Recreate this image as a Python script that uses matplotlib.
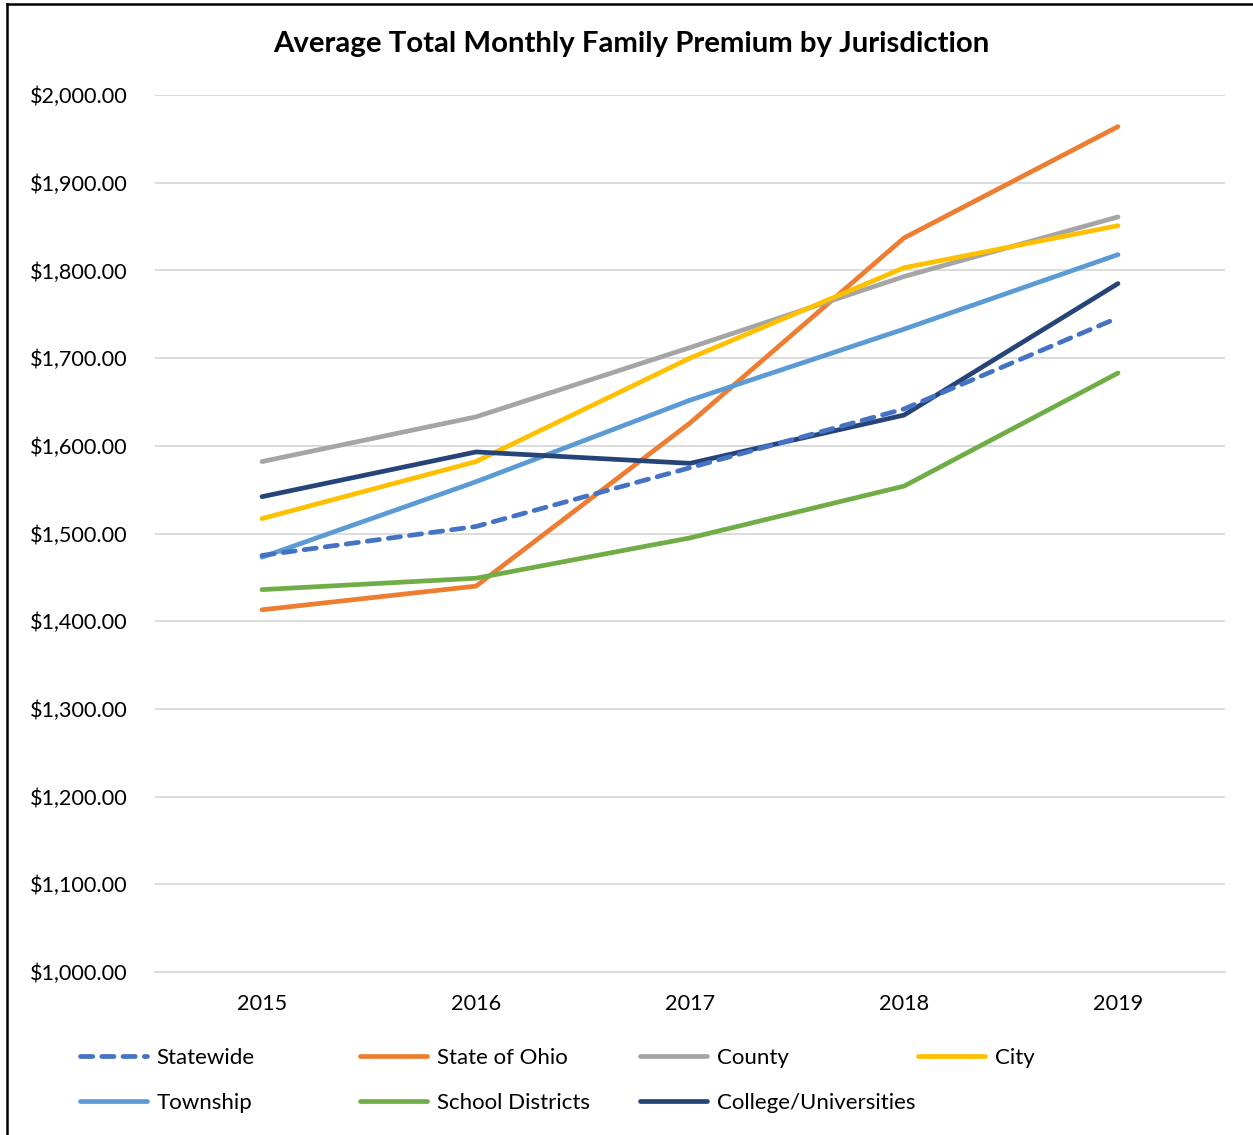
import matplotlib.pyplot as plt
from matplotlib.lines import Line2D
from matplotlib.ticker import FuncFormatter

plt.rcParams['font.family'] = ['Lato', 'DejaVu Sans']

# Data
years = ["2015", "2016", "2017", "2018", "2019"]
statewide = [1475, 1508, 1575, 1642, 1746]
state_of_ohio = [1413, 1440, 1626, 1837, 1964]
county = [1582, 1633, 1712, 1793, 1861]
city = [1517, 1582, 1700, 1803, 1851]
township = [1473, 1559, 1652, 1733, 1818]
school_districts = [1436, 1449, 1495, 1554, 1683]
college_universities = [1542, 1593, 1580, 1635, 1785]

series = [
    ("Statewide", statewide, "#4472C4", (0, (2.6, 1.9))),
    ("State of Ohio", state_of_ohio, "#ED7D31", "-"),
    ("County", county, "#A5A5A5", "-"),
    ("City", city, "#FFC000", "-"),
    ("Township", township, "#5B9BD5", "-"),
    ("School Districts", school_districts, "#70AD47", "-"),
    ("College/Universities", college_universities, "#264478", "-"),
]

fig = plt.figure(figsize=(12.53, 11.35), dpi=100)
ax = fig.add_axes([155 / 1253, 1 - 972 / 1135, 1070 / 1253, 877 / 1135])

x = range(len(years))
handles = {}
for name, vals, color, ls in series:
    line, = ax.plot(x, vals, color=color, lw=3.4, linestyle=ls, solid_capstyle="round",
                    dash_capstyle="round", label=name)
    handles[name] = line

# stacking order roughly as in the reference
for name in ["County", "City", "Township", "School Districts", "College/Universities"]:
    handles[name].set_zorder(3)
handles["Statewide"].set_zorder(4)
handles["State of Ohio"].set_zorder(2)

ax.set_xlim(-0.5, len(years) - 0.5)
ax.set_ylim(1000, 2000)
ax.set_xticks(list(x))
ax.set_xticklabels(years)
ax.set_yticks(range(1000, 2001, 100))
ax.yaxis.set_major_formatter(FuncFormatter(lambda v, p: f"${v:,.2f}"))
ax.tick_params(axis="both", length=0, labelsize=15.6, colors="#000000")
ax.tick_params(axis="y", pad=20)
ax.tick_params(axis="x", pad=16)
ax.grid(axis="y", color="#D9D9D9", lw=1.3)
ax.set_axisbelow(True)
for s in ["top", "right", "left"]:
    ax.spines[s].set_visible(False)
ax.spines["bottom"].set_color("#D9D9D9")
ax.spines["bottom"].set_linewidth(1.3)

fig.text(631 / 1253, 1 - 44 / 1135, "Average Total Monthly Family Premium by Jurisdiction",
         ha="center", va="center", fontsize=21.2, fontweight="bold")

# Legend: four columns placed at fixed positions
columns = [["Statewide", "Township"], ["State of Ohio", "School Districts"],
           ["County", "College/Universities"], ["City"]]
col_x = [80, 360, 640, 918]
for names, cx in zip(columns, col_x):
    fig.legend([handles[n] for n in names], names, loc="upper left",
               bbox_to_anchor=(cx / 1253, 1 - 1048 / 1135), frameon=False,
               fontsize=16, handlelength=3.0, handletextpad=0.45, labelspacing=1.12,
               borderaxespad=0, borderpad=0)

# Outer frame (left and top edges visible)
fig.add_artist(Line2D([7 / 1253, 7 / 1253], [0, 1 - 4 / 1135], color="black", lw=1.8,
                      transform=fig.transFigure))
fig.add_artist(Line2D([7 / 1253, 1], [1 - 4 / 1135, 1 - 4 / 1135], color="black", lw=1.8,
                      transform=fig.transFigure))

fig.savefig("out.png", dpi=100)
